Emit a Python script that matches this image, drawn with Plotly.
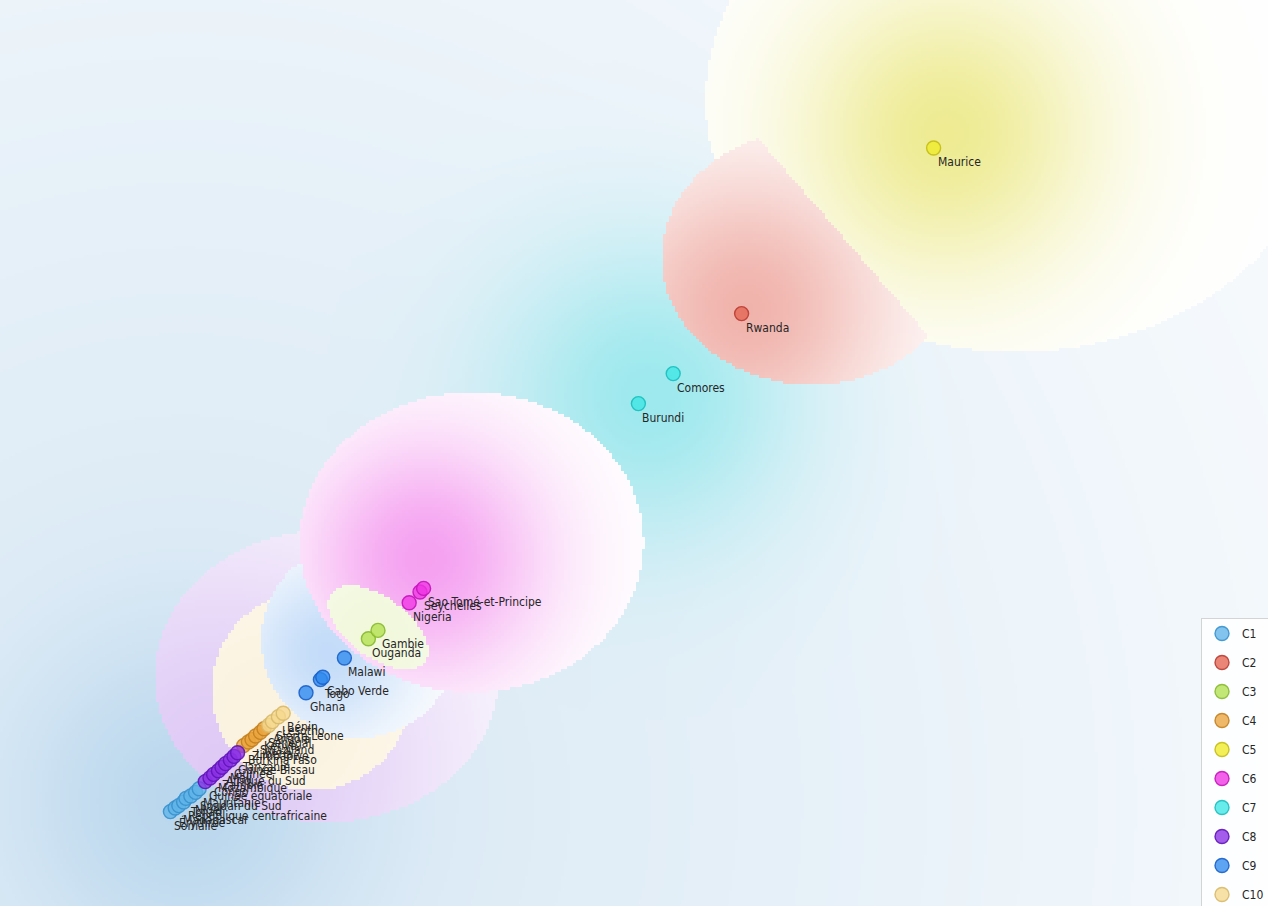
import base64
import struct
import zlib

import numpy as np
import plotly.graph_objects as go

# ---------------- data ----------------
clusters = ["C1", "C2", "C3", "C4", "C5", "C6", "C7", "C8", "C9", "C10"]

c1_names = ["Somalie", "Érythrée", "Madagascar", "République centrafricaine",
            "Tchad", "Niger", "Soudan du Sud", "Mauritanie"]
c1_x = [-1.08, -1.04, -1.01, -0.97, -0.95, -0.91, -0.87, -0.84]
c1_y = [-0.93, -0.90, -0.88, -0.85, -0.82, -0.80, -0.77, -0.74]

c2_names = ["Rwanda"]
c2_x = [3.68]
c2_y = [3.22]

c3_names = ["Ouganda", "Gambie"]
c3_x = [0.57, 0.65]
c3_y = [0.51, 0.58]

c4_names = ["Burkina Faso", "Zimbabwe", "Liberia", "Swaziland", "Kenya", "Sénégal"]
c4_x = [-0.47, -0.43, -0.40, -0.37, -0.33, -0.30]
c4_y = [-0.38, -0.35, -0.33, -0.30, -0.27, -0.24]

c5_names = ["Maurice"]
c5_x = [5.28]
c5_y = [4.60]

c6_names = ["Nigeria", "Seychelles", "Sao Tomé-et-Principe"]
c6_x = [0.91, 1.00, 1.03]
c6_y = [0.81, 0.90, 0.93]

c7_names = ["Burundi", "Comores"]
c7_x = [2.82, 3.11]
c7_y = [2.47, 2.72]

c8_names = ["Guinée équatoriale", "Congo", "Mozambique", "Zambie", "Afrique du Sud",
            "Mali", "Guinée", "Guinée-Bissau", "Tanzanie"]
c8_x = [-0.79, -0.75, -0.72, -0.68, -0.65, -0.62, -0.58, -0.55, -0.52]
c8_y = [-0.68, -0.65, -0.62, -0.59, -0.56, -0.53, -0.50, -0.47, -0.44]

c9_names = ["Ghana", "Togo", "Cabo Verde", "Malawi"]
c9_x = [0.05, 0.17, 0.19, 0.37]
c9_y = [0.06, 0.17, 0.19, 0.35]

c10_names = ["Angola", "Sierra Leone", "Lesotho", "Bénin"]
c10_x = [-0.26, -0.23, -0.18, -0.14]
c10_y = [-0.21, -0.18, -0.14, -0.11]

DATA = {
    "C1": (c1_names, c1_x, c1_y), "C2": (c2_names, c2_x, c2_y),
    "C3": (c3_names, c3_x, c3_y), "C4": (c4_names, c4_x, c4_y),
    "C5": (c5_names, c5_x, c5_y), "C6": (c6_names, c6_x, c6_y),
    "C7": (c7_names, c7_x, c7_y), "C8": (c8_names, c8_x, c8_y),
    "C9": (c9_names, c9_x, c9_y), "C10": (c10_names, c10_x, c10_y),
}

# ---------------- styles ----------------
W, H = 1268, 906
X0, X1 = -2.5, -2.5 + W / 120.0
Y1 = 700 / 120.0
Y0 = Y1 - H / 120.0
FONT = "DejaVu Sans Condensed, DejaVu Sans"

FILL = {
    "C1": (95, 180, 232), "C2": (228, 100, 82), "C3": (178, 224, 80),
    "C4": (234, 164, 62), "C5": (240, 234, 40), "C6": (240, 52, 228),
    "C7": (62, 230, 230), "C8": (138, 48, 228), "C9": (48, 138, 238),
    "C10": (246, 216, 142),
}
LINE = {
    "C1": (55, 145, 205), "C2": (185, 60, 50), "C3": (135, 185, 45),
    "C4": (195, 128, 30), "C5": (195, 188, 20), "C6": (195, 20, 185),
    "C7": (25, 190, 190), "C8": (95, 20, 185), "C9": (25, 95, 200),
    "C10": (215, 185, 105),
}
BGCOL = {
    "C1": (100, 165, 215), "C2": (225, 95, 80), "C3": (185, 222, 80),
    "C5": (222, 216, 40), "C6": (235, 60, 225), "C7": (64, 224, 224),
    "C8": (150, 80, 225), "C9": (60, 140, 235), "C10": (240, 200, 110),
}
# region layers: (cluster, clip dx, dy (px), rx, ry, angle deg,
#                 glow dx, glow dy, max alpha, falloff px, over base)
LAYERS = [
    ("C7", 0, 0, 330, 330, 0, -5, 5, 0.44, 105, True),
    ("C5", 82, -48, 310, 252, 0, 12, -15, 0.50, 105, False),
    ("C2", 70, -56, 150, 127, 0, 5, -5, 0.47, 100, False),
    ("C8", 105, -91, 172, 146, 0, 0, 0, 0.30, 180, False),
    ("C10", 36, -29, 100, 100, 0, 0, 0, 0.22, 150, False),
    ("C9", 36, -37, 98, 98, 0, 4, -25, 0.30, 62, False),
    ("C6", 54, -52, 172, 150, 0, 8, -35, 0.48, 85, False),
    ("C3", 5, -7, 58, 30, 36, 0, 0, 0.20, 80, False),
]


def to_px(x, y):
    return ((np.asarray(x) - X0) / (X1 - X0) * W,
            (Y1 - np.asarray(y)) / (Y1 - Y0) * H)


cent = {}
for k, (n, xs, ys) in DATA.items():
    px, py = to_px(xs, ys)
    cent[k] = (float(np.mean(px)), float(np.mean(py)))

# ---------------- background ----------------
CELL = 3
nx, ny = -(-W // CELL), -(-H // CELL)
gx = (np.arange(nx) + 0.5) * CELL
gy = (np.arange(ny) + 0.5) * CELL
PX, PY = np.meshgrid(gx, gy)


def col(c):
    return np.array(c, dtype=float).reshape(1, 1, 3)


white = np.full((ny, nx, 3), 255.0)
cx, cy = cent["C1"]
d2 = (PX - cx) ** 2 + (PY - cy) ** 2
a1 = 0.22 * np.exp(-d2 / (2 * 742 ** 2)) + 0.22 * np.exp(-d2 / (2 * 120 ** 2))
a1 = np.clip(a1, 0, 0.6)[..., None]
base = white * (1 - a1) + col(BGCOL["C1"]) * a1
out = base.copy()

for k, dx, dy, rx, ry, ang, gdx, gdy, m, g, over in LAYERS:
    cx, cy = cent[k]
    ox, oy = cx + dx, cy + dy
    t = np.deg2rad(ang)
    u = (PX - ox) * np.cos(t) + (PY - oy) * np.sin(t)
    v = -(PX - ox) * np.sin(t) + (PY - oy) * np.cos(t)
    mask = (u / rx) ** 2 + (v / ry) ** 2 < 1
    if k == "C2":
        mx, my = cent["C5"]
        mask &= ((PX - cx) ** 2 + (PY - cy) ** 2) < ((PX - mx) ** 2 + (PY - my) ** 2)
    d2 = (PX - cx - gdx) ** 2 + (PY - cy - gdy) ** 2
    a = (m * np.exp(-d2 / (2 * g ** 2)))[..., None]
    under = base if over else white
    blend = under * (1 - a) + col(BGCOL[k]) * a
    out = np.where(mask[..., None], blend, out)

img = np.clip(out, 0, 255).astype(np.uint8)
img = np.repeat(np.repeat(img, CELL, axis=0), CELL, axis=1)[:H, :W]


def png_bytes(rgb):
    h, w, _ = rgb.shape
    raw = b"".join(b"\x00" + rgb[i].tobytes() for i in range(h))

    def chunk(t, d):
        return (struct.pack(">I", len(d)) + t + d +
                struct.pack(">I", zlib.crc32(t + d) & 0xFFFFFFFF))

    return (b"\x89PNG\r\n\x1a\n" +
            chunk(b"IHDR", struct.pack(">IIBBBBB", w, h, 8, 2, 0, 0, 0)) +
            chunk(b"IDAT", zlib.compress(raw, 9)) + chunk(b"IEND", b""))


src = "data:image/png;base64," + base64.b64encode(png_bytes(img)).decode()

# ---------------- figure ----------------
fig = go.Figure()
for k in clusters:
    names, xs, ys = DATA[k]
    f, l = FILL[k], LINE[k]
    fig.add_trace(go.Scatter(
        x=xs, y=ys, mode="markers", name=k, legendgroup=k,
        text=names, hoverinfo="text",
        marker=dict(size=14, color="rgba(%d,%d,%d,0.78)" % f,
                    line=dict(color="rgba(%d,%d,%d,0.9)" % l, width=1.4)),
    ))
for k in clusters:
    names, xs, ys = DATA[k]
    for n, x, y in zip(names, xs, ys):
        fig.add_annotation(x=x, y=y, text=n, showarrow=False,
                           xanchor="left", yanchor="middle", xshift=2, yshift=-14,
                           font=dict(family=FONT, size=12, color="#262626"))

fig.add_layout_image(dict(
    source=src, xref="x", yref="y", x=X0, y=Y1, sizex=X1 - X0, sizey=Y1 - Y0,
    sizing="stretch", xanchor="left", yanchor="top", layer="below"))

fig.update_layout(
    width=W, height=H, margin=dict(l=0, r=0, t=0, b=0, autoexpand=False),
    paper_bgcolor="white", plot_bgcolor="white",
    xaxis=dict(range=[X0, X1], visible=False, autorange=False),
    yaxis=dict(range=[Y0, Y1], visible=False, autorange=False),
    font=dict(family=FONT, size=12, color="#262626"),
    legend=dict(x=1201 / W, y=1 - 618 / H, xanchor="left", yanchor="top",
                bgcolor="rgba(255,255,255,0.85)", bordercolor="#d4d4d4",
                borderwidth=1, font=dict(family=FONT, size=12), tracegroupgap=10),
    showlegend=True,
)
fig.write_html("out.html")
